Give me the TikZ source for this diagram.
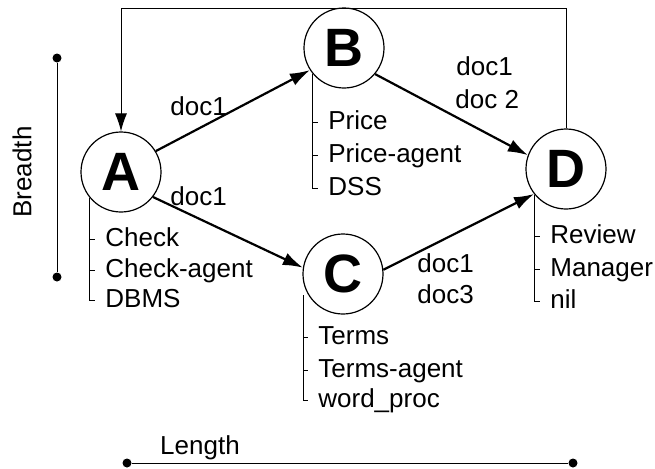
\documentclass[tikz,border=0pt]{standalone}
\usepackage{fontspec}
\setmainfont{Liberation Sans}
\usepackage{tikz}
\usetikzlibrary{arrows.meta}
\tikzset{
    proc/.style={shape=circle, draw=black, line width=0.6pt, minimum size=40pt, inner sep=0pt, font=\fontsize{27}{27}\selectfont\bfseries},
    item/.style={anchor=west, inner sep=0pt, text height=9.5pt, text depth=2.5pt, font=\fontsize{13}{16}\selectfont},
    lbl/.style={anchor=base west, inner sep=0pt, font=\fontsize{13}{16}\selectfont},
    dot/.style={shape=circle, fill=black, minimum size=4.5pt, inner sep=0pt},
    flow/.style={-{Latex[length=10pt,width=6.5pt]}, line width=1.1pt},
    thin/.style={line width=0.5pt}}

\begin{document}
\begin{tikzpicture}[x=0.5pt, y=0.5pt]
        \useasboundingbox (0,0) rectangle (655,468);

            \node[proc] (A) at (121,296) {A};
            \node[proc] (B) at (344,420) {B};
            \node[proc] (C) at (343,194) {C};
            \node[proc] (D) at (566,299) {D};

            \draw[flow] (A.31) -- (B.213);
            \draw[flow] (A.-38) -- (C.171);
            \draw[flow] (B.-40) -- (D.160);
            \draw[flow] (C.6) -- (D.218);

            \node[lbl] (ab) at (170,353) {doc1};
            \node[lbl] (ac) at (170,263) {doc1};
            \node[lbl] (bd1) at (456,393) {doc1};
            \node[lbl] (bd2) at (455,360) {doc 2};
            \node[lbl] (cd1) at (417,196) {doc1};
            \node[lbl] (cd2) at (417,165) {doc3};

            % return line from D back to A
            \coordinate (ret) at (0,460);
            \draw[thin, -{Latex[length=9pt,width=6pt]}] (D.north) |- (A.north |- ret) -- (A.north);

            % lists under the nodes
            \node[item] (A1) at (105,229) {Check};
            \node[item] (A2) at (105,198) {Check-agent};
            \node[item] (A3) at (105,168) {DBMS};
            \node[item] (B1) at (328,346) {Price};
            \node[item] (B2) at (328,313) {Price-agent};
            \node[item] (B3) at (328,280) {DSS};
            \node[item] (C1) at (318,131) {Terms};
            \node[item] (C2) at (318,98) {Terms-agent};
            \node[item] (C3) at (318,68) {word\_proc};
            \node[item] (D1) at (550,232) {Review};
            \node[item] (D2) at (550,199) {Manager};
            \node[item] (D3) at (550,167) {nil};
            \coordinate (Cl) at (303,173);

            \draw[thin] (A.219) |- ([xshift=-5pt]A3.west);
            \draw[thin] (B.219) |- ([xshift=-5pt]B3.west);
            \draw[thin] (Cl) |- ([xshift=-5pt]C3.west);
            \draw[thin] (D.219) |- ([xshift=-5pt]D3.west);
            \foreach \n in {A1,A2,B1,B2,C1,C2,D1,D2}
                \draw[thin] ([xshift=-7.5pt]\n.west) -- ++(2.5pt,0);

            % breadth and length bars
            \node[dot] (b1) at (57,410) {};
            \node[dot] (b2) at (57,191) {};
            \draw[thin] (b1) -- (b2);
            \node[rotate=90, font=\fontsize{13}{16}\selectfont] (br) at (22,296) {Breadth};

            \node[dot] (l1) at (127,5) {};
            \node[dot] (l2) at (573,5) {};
            \draw[thin] (l1) -- (l2);
            \node[font=\fontsize{13}{16}\selectfont] (len) at (200,20) {Length};

        \end{tikzpicture}
\end{document}
